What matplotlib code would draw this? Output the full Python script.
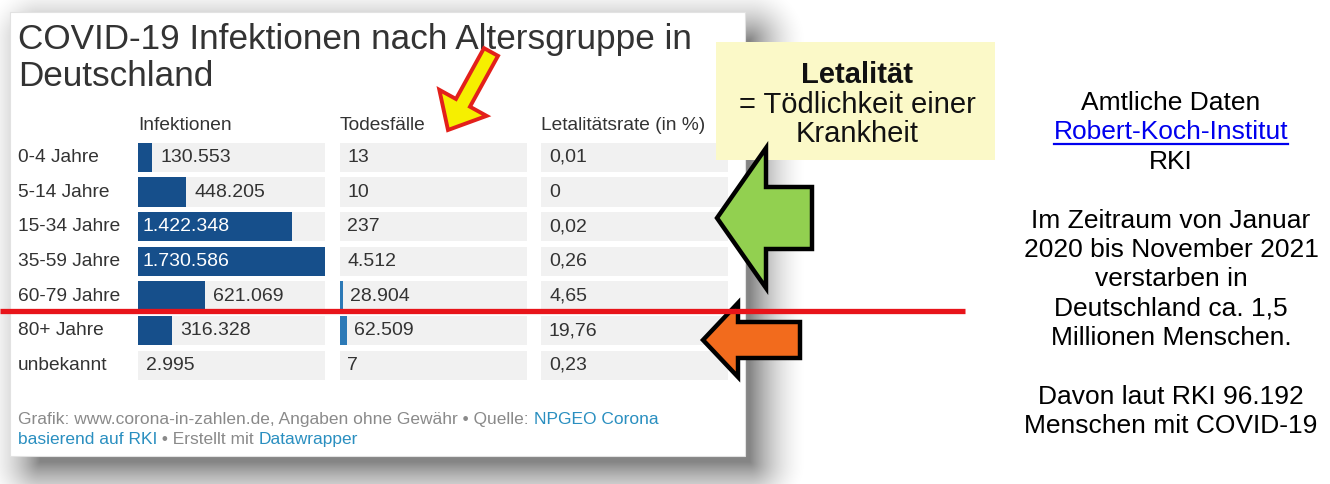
import numpy as np
import matplotlib
matplotlib.use('Agg')
import matplotlib.pyplot as plt
from matplotlib.patches import Rectangle, Polygon

plt.rcParams['font.family'] = ['Liberation Sans', 'DejaVu Sans']

# Daten: RKI, Januar 2020 - November 2021
altersgruppen = ['0-4 Jahre', '5-14 Jahre', '15-34 Jahre', '35-59 Jahre',
                 '60-79 Jahre', '80+ Jahre', 'unbekannt']
infektionen = [130553, 448205, 1422348, 1730586, 621069, 316328, 2995]
todesfaelle = [13, 10, 237, 4512, 28904, 62509, 7]
letalitaet = [0.01, 0, 0.02, 0.26, 4.65, 19.76, 0.23]
spalten = ['Infektionen', 'Todesfälle', 'Letalitätsrate (in %)']

titel = ['COVID-19 Infektionen nach Altersgruppe in', 'Deutschland']
box_text = ['Letalität', '= Tödlichkeit einer', 'Krankheit']
rechts_text = ['Amtliche Daten', 'Robert-Koch-Institut', 'RKI', '',
               'Im Zeitraum von Januar', '2020 bis November 2021', 'verstarben in',
               'Deutschland ca. 1,5', 'Millionen Menschen.', '',
               'Davon laut RKI 96.192', 'Menschen mit COVID-19']

W, H = 1330, 484
fig = plt.figure(figsize=(W / 100, H / 100), dpi=100)


def px_axes(x0, y0, x1, y1):
    # axes in pixel coordinates (y from top)
    a = fig.add_axes([x0 / W, 1 - y1 / H, (x1 - x0) / W, (y1 - y0) / H])
    a.axis('off')
    return a


def de(v):
    return f'{v:,}'.replace(',', '.')


def arrow_poly(tail, tip, shaft_w, head_w, head_len):
    tail = np.array(tail, float)
    tip = np.array(tip, float)
    u = (tip - tail) / np.hypot(*(tip - tail))
    n = np.array([-u[1], u[0]])
    base = tip - u * head_len
    return [tail + n * shaft_w / 2, base + n * shaft_w / 2, base + n * head_w / 2, tip,
            base - n * head_w / 2, base - n * shaft_w / 2, tail - n * shaft_w / 2]


# ---- background layer: shadow, card, texts ----
bg = px_axes(0, 0, W, H)
yy, xx = np.mgrid[0:H, 0:W] + 0.5
dx = np.maximum(np.maximum(40 - xx, xx - 750), 0)
dy = np.maximum(np.maximum(40 - yy, yy - 462), 0)
d = np.hypot(dx, dy)
shadow = np.zeros((H, W, 4))
shadow[..., 3] = 0.48 * np.clip(1 - d / 58, 0, 1) ** 1.8
bg.imshow(shadow, extent=(0, W, H, 0), aspect='auto', zorder=1)
bg.add_patch(Rectangle((10, 12), 735, 444, facecolor='white', edgecolor='#e2e2e2', lw=0.8, zorder=2))
bg.set_xlim(0, W)
bg.set_ylim(H, 0)

bg.text(18, 40, titel[0], fontsize=25.3, color='#333333', va='center', zorder=3)
bg.text(18, 77, titel[1], fontsize=25.3, color='#333333', va='center', zorder=3)

row_top, row_h = 140, 34.67
cols = [(138, 325), (340, 527), (541, 728)]
for (x0, x1), name in zip(cols, spalten):
    bg.text(x0, 125, name, fontsize=13.8, color='#333333', va='center', zorder=3)
for i, lab in enumerate(altersgruppen):
    bg.text(18, row_top + row_h * (i + 0.5), lab, fontsize=13.8, color='#333333',
            va='center', zorder=3)


def rich(ax, x, y, parts, **kw):
    t = ax.text(x, y, parts[0][0], color=parts[0][1], va='bottom', zorder=3, **kw)
    for s, c in parts[1:]:
        t = ax.annotate(s, xy=(1, 0), xycoords=t, va='bottom', ha='left', color=c,
                        zorder=3, **kw)


grau, blau = '#8a8a8a', '#2a8fc0'
rich(bg, 18, 427, [('Grafik: www.corona-in-zahlen.de, Angaben ohne Gewähr • Quelle: ', grau),
                   ('NPGEO Corona', blau)], fontsize=12.5)
rich(bg, 18, 447, [('basierend auf RKI', blau), (' • Erstellt mit ', grau),
                   ('Datawrapper', blau)], fontsize=12.5)

# ---- table columns ----
n = len(altersgruppen)
yidx = np.arange(n)
xmax = max(infektionen)
col_axes = []
for x0, x1 in cols:
    a = px_axes(x0, row_top, x1, row_top + row_h * n)
    a.set_xlim(0, xmax)
    a.set_ylim(n - 0.5, -0.5)
    a.barh(yidx, [xmax] * n, height=0.84, color='#f1f1f1')
    col_axes.append(a)

a_inf, a_tod, a_let = col_axes
a_inf.barh(yidx, infektionen, height=0.84, color='#164f8b')
for i, v in enumerate(infektionen):
    if v > 0.6 * xmax:
        a_inf.annotate(de(v), (0, i), xytext=(4 * 0.72, 0), textcoords='offset points',
                       va='center', color='white', fontsize=14)
    else:
        a_inf.annotate(de(v), (v, i), xytext=(8 * 0.72, 0), textcoords='offset points',
                       va='center', color='#333333', fontsize=14)

a_tod.barh(yidx, todesfaelle, height=0.84, color='#2c79b6')
for i, v in enumerate(todesfaelle):
    a_tod.annotate(de(v), (v, i), xytext=(7 * 0.72, 0), textcoords='offset points',
                   va='center', color='#333333', fontsize=14)

for i, v in enumerate(letalitaet):
    a_let.annotate(f'{v:g}'.replace('.', ','), (0, i), xytext=(8 * 0.72, 0),
                   textcoords='offset points', va='center', color='#333333', fontsize=14)

# ---- overlay: red line, arrows, note box, right text ----
top = px_axes(0, 0, W, H)
top.set_xlim(0, W)
top.set_ylim(H, 0)

top.plot([0, 965], [311, 311], color='#e8141a', lw=3.8, solid_capstyle='butt')

top.add_patch(Polygon(arrow_poly((491, 52), (448, 130), 16, 54, 31), closed=True,
                      facecolor='#f6ef00', edgecolor='#e3201b', lw=2.8, joinstyle='miter'))

top.add_patch(Rectangle((716, 42), 279, 118, facecolor='#fbf9c8', edgecolor='none'))
top.text(857, 75, box_text[0], fontsize=21, fontweight='bold', color='#111111',
         ha='center', va='center')
top.text(857, 105, box_text[1], fontsize=21, color='#111111', ha='center', va='center')
top.text(857, 134, box_text[2], fontsize=21, color='#111111', ha='center', va='center')

top.add_patch(Polygon(arrow_poly((812, 218), (717, 218), 62, 140, 49), closed=True,
                      facecolor='#92d050', edgecolor='black', lw=3.2, joinstyle='miter'))
top.add_patch(Polygon(arrow_poly((800, 340), (703, 340), 36, 74, 35), closed=True,
                      facecolor='#f26b1d', edgecolor='black', lw=3.2, joinstyle='miter'))

link = None
ypos = {}
for k, line in enumerate(rechts_text):
    if not line:
        continue
    ypos[k] = 103 + 29.4 * k
    t = top.text(1171, ypos[k], line, fontsize=19, ha='center', va='center',
                 color='#0000ee' if k == 1 else 'black')
    if k == 1:
        link = t

fig.canvas.draw()
bb = link.get_window_extent()
inv = top.transData.inverted()
(lx0, _), (lx1, _) = inv.transform([[bb.x0, bb.y0], [bb.x1, bb.y0]])
top.plot([lx0, lx1], [ypos[1] + 12, ypos[1] + 12], color='#0000ee', lw=1.6)

fig.savefig('out.png', dpi=100)
